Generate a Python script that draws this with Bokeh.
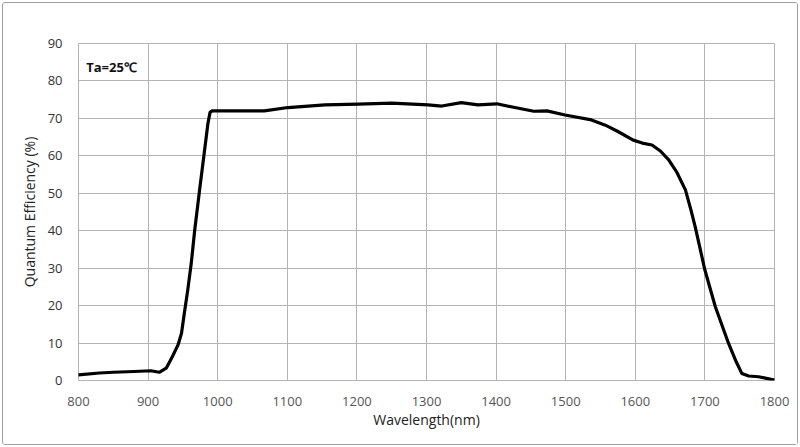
from bokeh.plotting import figure
from bokeh.models import Label, FixedTicker, ColumnDataSource
from bokeh.embed import file_html
from bokeh.resources import INLINE

# Wavelength (nm) and quantum efficiency (%)
wavelength = [800, 830, 850, 880, 904, 916, 926, 935, 943, 948, 952, 957, 962,
              967, 974, 980, 986, 989, 992, 1000, 1020, 1048, 1067, 1101,
              1154, 1202, 1250, 1302, 1322, 1350, 1374, 1401, 1427, 1454, 1473,
              1499, 1537, 1557, 1575, 1597, 1610, 1624, 1636, 1648, 1660, 1672,
              1680, 1686, 1700, 1715, 1734, 1745, 1753, 1763, 1777, 1790, 1800]
efficiency = [1.5, 2.0, 2.2, 2.4, 2.6, 2.2, 3.3, 6.4, 9.5, 12.6, 17.9, 24.2, 31.3,
              40.2, 50.9, 59.8, 68.7, 71.6, 72.0, 72.0, 72.0, 72.0, 72.0, 72.9,
              73.6, 73.8, 74.1, 73.6, 73.3, 74.2, 73.6, 73.9, 72.9, 71.9, 72.0,
              70.9, 69.6, 68.2, 66.5, 64.2, 63.4, 62.9, 61.3, 58.9, 55.5, 50.9,
              45.5, 41.1, 29.5, 19.7, 9.9, 5.0, 1.9, 1.2, 1.0, 0.5, 0.1]

x_ticks = [800, 900, 1000, 1100, 1200, 1300, 1400, 1500, 1600, 1700, 1800]
y_ticks = [0, 10, 20, 30, 40, 50, 60, 70, 80, 90]

FONT = "Open Sans"

p = figure(width=796, height=443, output_backend="svg", toolbar_location=None,
           x_range=(800, 1800), y_range=(0, 90),
           min_border_left=75, min_border_right=25, min_border_top=40,
           min_border_bottom=66)
p.styles = {"border": "1px solid #a0a0a0", "border-radius": "3px",
            "margin-left": "2px", "margin-top": "2px"}

src = ColumnDataSource(dict(x=wavelength, y=efficiency))
p.line("x", "y", source=src, line_color="black", line_width=3.2,
       line_join="round", line_cap="round")

p.outline_line_color = "#b4b4b4"
p.xgrid.ticker = FixedTicker(ticks=x_ticks)
p.ygrid.ticker = FixedTicker(ticks=y_ticks)
p.xgrid.grid_line_color = "#b4b4b4"
p.ygrid.grid_line_color = "#b4b4b4"

for ax in (p.xaxis[0], p.yaxis[0]):
    ax.axis_line_color = None
    ax.major_tick_line_color = None
    ax.minor_tick_line_color = None
    ax.major_label_text_font = FONT
    ax.major_label_text_font_size = "13px"
    ax.axis_label_text_font = FONT
    ax.axis_label_text_font_style = "normal"
    ax.axis_label_text_font_size = "14px"
    ax.axis_label_text_color = "#222222"

p.xaxis.ticker = FixedTicker(ticks=x_ticks)
p.yaxis.ticker = FixedTicker(ticks=y_ticks)
p.xaxis.major_label_text_color = "#555555"
p.yaxis.major_label_text_color = "#333333"
p.xaxis.major_label_standoff = 10
p.yaxis.major_label_standoff = 10
p.xaxis.axis_label = "Wavelength(nm)"
p.yaxis.axis_label = "Quantum Efficiency (%)"
p.xaxis.axis_label_standoff = 1
p.yaxis.axis_label_standoff = 6

p.add_layout(Label(x=811, y=83.6, text="Ta=25℃", text_font=FONT,
                   text_font_size="13px", text_font_style="bold",
                   text_baseline="middle", text_color="#111111"))

open("out.html", "w").write(file_html(p, INLINE))
